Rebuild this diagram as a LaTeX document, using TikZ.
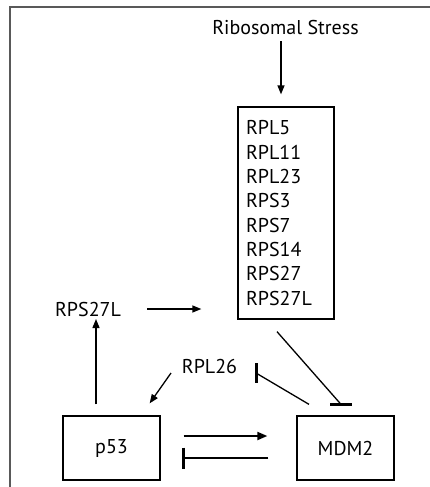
\documentclass[tikz,border=0pt]{standalone}
\usepackage{fontspec}
\setmainfont{PT Sans}
\usetikzlibrary{arrows.meta,calc}

\begin{document}
\begin{tikzpicture}[x=1pt,y=-1pt,
    label/.style={inner sep=0pt, font=\fontsize{20}{24}\selectfont},
    gbox/.style={draw, line width=1.3pt, inner sep=0pt},
    arr/.style={line width=1.3pt, -{Triangle[length=9pt,width=7pt]}},
    thickarr/.style={line width=2pt, -{Triangle[length=10pt,width=8pt]}},
    inh/.style={line width=1.3pt},
    thickinh/.style={line width=2.2pt},
    barline/.style={line width=3pt}]
  \useasboundingbox (0,0) rectangle (430,487);

  % open frame: top and left edges only
  \draw[black!65, line width=1.6pt] (10,487) -- (10,7) -- (430,7);

  % nodes
  \node[label] (stress) at (285.5,28) {Ribosomal Stress};
  \node[gbox, minimum width=96pt, minimum height=212pt, text width=80pt,
        align=left, font=\fontsize{20}{24.3}\selectfont] (rp) at (286,213)
        {RPL5\\RPL11\\RPL23\\RPS3\\RPS7\\RPS14\\RPS27\\RPS27L};
  \node[label] (l27) at (88,309) {RPS27L};
  \node[label] (rpl26) at (209.5,366) {RPL26};
  \node[gbox, minimum width=97pt, minimum height=64pt, label] (p53) at (111.5,448) {p53};
  \node[gbox, minimum width=97pt, minimum height=64pt, label] (mdm) at (345.5,448) {MDM2};

  % activations
  \draw[arr] ($(rp.north)+(-5,-65)$) -- ($(rp.north)+(-5,-12)$);
  \draw[arr] ($(rp.west |- l27)+(-90,0)$) -- ($(rp.west |- l27)+(-36,0)$);
  \draw[arr] ($(p53.north)+(-15.5,-11)$) -- ($(p53.north |- l27)+(-15.5,10)$);
  \draw[arr] ($(rpl26)+(-38.5,7)$) -- ($(p53.north east)+(-11,-12)$);
  \draw[thickarr] ($(p53.east)+(23,-12)$) -- ($(mdm.west)+(-29,-12)$);

  % inhibitions
  \draw[inh] ($(rp.south)+(-9,12)$) coordinate (a1) -- ($(mdm.north)+(-4.5,-11)$) coordinate (a2);
  \draw[barline] ($(a2)+(-11,0)$) -- ($(a2)+(11,0)$);
  \draw[inh] ($(mdm.north)+(-36.5,-11)$) -- ($(rpl26)+(46.5,7)$) coordinate (b2);
  \draw[barline] ($(b2)+(0,-10)$) -- ($(b2)+(0,10)$);
  \draw[thickinh] ($(mdm.west)+(-28,10)$) -- ($(p53.east)+(23,10)$) coordinate (c2);
  \draw[barline] ($(c2)+(0,-10.5)$) -- ($(c2)+(0,10.5)$);
\end{tikzpicture}
\end{document}
